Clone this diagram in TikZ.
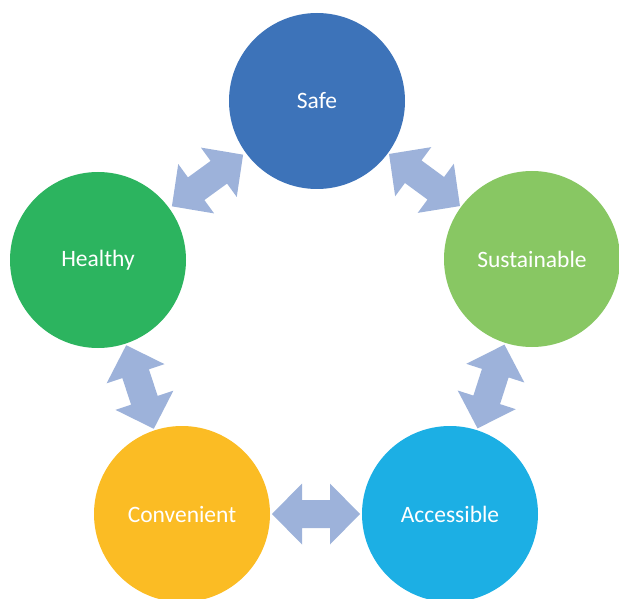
\documentclass[tikz,border=0pt]{standalone}
\usepackage{fontspec}
\setmainfont{Carlito}
\usetikzlibrary{calc}
\definecolor{cSafe}{HTML}{3D73B9}
\definecolor{cHealthy}{HTML}{2CB45F}
\definecolor{cSust}{HTML}{88C763}
\definecolor{cConv}{HTML}{FBBC24}
\definecolor{cAcc}{HTML}{1CAFE4}
\definecolor{cArrow}{HTML}{9DB2DA}
\tikzset{
  bubble/.style={circle, minimum size=176pt, inner sep=0pt, text=white, font=\fontsize{23.5}{28}\selectfont},
  arrowfill/.style={fill=cArrow}
}
\newcommand\twoway[2]{%
  \pgfmathanglebetweenpoints{\pgfpointanchor{#1}{center}}{\pgfpointanchor{#2}{center}}%
  \let\twang\pgfmathresult
  \fill[arrowfill, shift={($(#1)!0.5!(#2)$)}, rotate=\twang]
    (44,0) -- (14,30.5) -- (14,14) -- (-14,14) -- (-14,30.5) -- (-44,0)
    -- (-14,-30.5) -- (-14,-14) -- (14,-14) -- (14,-30.5) -- cycle;
}
\begin{document}
\begin{tikzpicture}[x=1pt,y=-1pt]
\useasboundingbox (0,0) rectangle (619,599);
\clip (0,0) rectangle (619,599);
\node[bubble, fill=cSafe] (safe) at (317,101) {Safe};
\node[bubble, fill=cHealthy] (healthy) at (98,260) {Healthy};
\node[bubble, fill=cSust] (sust) at (532,259) {Sustainable};
\node[bubble, fill=cConv] (conv) at (182,514) {Convenient};
\node[bubble, fill=cAcc] (acc) at (450,514) {Accessible};
\twoway{healthy}{safe}
\twoway{safe}{sust}
\twoway{healthy}{conv}
\twoway{sust}{acc}
\twoway{conv}{acc}
\end{tikzpicture}
\end{document}
